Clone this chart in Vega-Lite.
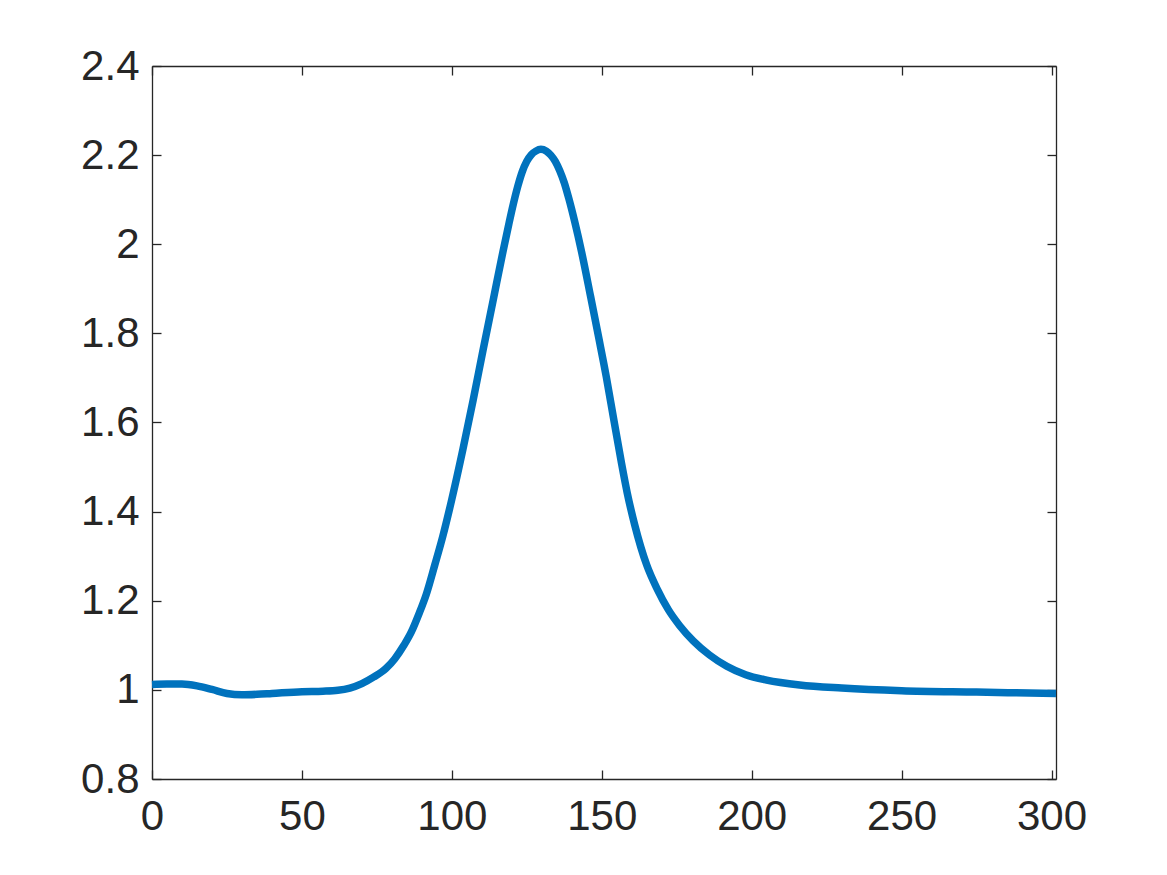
{
  "$schema": "https://vega.github.io/schema/vega-lite/v6.json",
  "autosize": "none",
  "width": 904,
  "height": 713,
  "padding": {"left": 152, "top": 66, "right": 111, "bottom": 96},
  "background": "white",
  "config": {
    "view": {"stroke": null},
    "axis": {
      "grid": false,
      "domainColor": "#262626",
      "domainWidth": 1.3,
      "tickColor": "#262626",
      "tickWidth": 1.3,
      "tickSize": -9,
      "labelColor": "#262626",
      "labelFont": "Liberation Sans",
      "labelFontSize": 42,
      "title": null
    }
  },
  "data": {
    "values": [
      {"t": 0, "v": 1.012},
      {"t": 5, "v": 1.013},
      {"t": 10, "v": 1.013},
      {"t": 15, "v": 1.009},
      {"t": 20, "v": 1.001},
      {"t": 25, "v": 0.992},
      {"t": 30, "v": 0.989},
      {"t": 35, "v": 0.99},
      {"t": 40, "v": 0.992},
      {"t": 50, "v": 0.996},
      {"t": 57, "v": 0.997},
      {"t": 62, "v": 0.999},
      {"t": 66, "v": 1.004},
      {"t": 70, "v": 1.014},
      {"t": 74, "v": 1.029},
      {"t": 78, "v": 1.048},
      {"t": 81, "v": 1.07},
      {"t": 84, "v": 1.1},
      {"t": 86.5, "v": 1.13},
      {"t": 89, "v": 1.17},
      {"t": 91.5, "v": 1.215},
      {"t": 94.3, "v": 1.28},
      {"t": 97, "v": 1.345},
      {"t": 99.9, "v": 1.425},
      {"t": 103.7, "v": 1.54},
      {"t": 107.1, "v": 1.65},
      {"t": 110.4, "v": 1.762},
      {"t": 113.8, "v": 1.875},
      {"t": 117.1, "v": 1.985},
      {"t": 119, "v": 2.045},
      {"t": 120.5, "v": 2.09},
      {"t": 122, "v": 2.13},
      {"t": 123.5, "v": 2.163},
      {"t": 125, "v": 2.186},
      {"t": 126.5, "v": 2.201},
      {"t": 128, "v": 2.209},
      {"t": 129.7, "v": 2.213},
      {"t": 131.5, "v": 2.209},
      {"t": 133, "v": 2.2},
      {"t": 134.5, "v": 2.186},
      {"t": 136, "v": 2.165},
      {"t": 137.5, "v": 2.138},
      {"t": 139, "v": 2.103},
      {"t": 141, "v": 2.05},
      {"t": 143.3, "v": 1.982},
      {"t": 146.3, "v": 1.882},
      {"t": 149, "v": 1.79},
      {"t": 151.5, "v": 1.703},
      {"t": 154, "v": 1.607},
      {"t": 156.5, "v": 1.512},
      {"t": 158.5, "v": 1.442},
      {"t": 161, "v": 1.37},
      {"t": 165, "v": 1.28},
      {"t": 168.5, "v": 1.226},
      {"t": 172.2, "v": 1.18},
      {"t": 176, "v": 1.144},
      {"t": 180.5, "v": 1.11},
      {"t": 186, "v": 1.078},
      {"t": 191.7, "v": 1.053},
      {"t": 198, "v": 1.034},
      {"t": 205, "v": 1.022},
      {"t": 216, "v": 1.011},
      {"t": 230, "v": 1.004},
      {"t": 250, "v": 0.998},
      {"t": 275, "v": 0.995},
      {"t": 301.5, "v": 0.992}
    ]
  },
  "layer": [
    {
      "mark": {"type": "line", "color": "#0072BD", "strokeWidth": 7.5, "interpolate": "monotone", "strokeCap": "butt"},
      "encoding": {
        "x": {
          "field": "t",
          "type": "quantitative",
          "scale": {"domain": [0, 301.5], "nice": false, "zero": false},
          "axis": {"orient": "bottom", "values": [0, 50, 100, 150, 200, 250, 300], "format": "d", "labelPadding": 26, "labelFlush": false, "labelOverlap": false}
        },
        "y": {
          "field": "v",
          "type": "quantitative",
          "scale": {"domain": [0.8, 2.4], "nice": false, "zero": false},
          "axis": {"orient": "left", "values": [0.8, 1, 1.2, 1.4, 1.6, 1.8, 2, 2.2, 2.4], "format": "~g", "labelPadding": 22, "labelFlush": false, "labelOverlap": false}
        }
      }
    },
    {
      "mark": {"type": "point", "opacity": 0},
      "encoding": {
        "x": {
          "field": "t",
          "type": "quantitative",
          "axis": {"orient": "top", "values": [0, 50, 100, 150, 200, 250, 300], "labels": false}
        },
        "y": {
          "field": "v",
          "type": "quantitative",
          "axis": {"orient": "right", "values": [0.8, 1, 1.2, 1.4, 1.6, 1.8, 2, 2.2, 2.4], "labels": false}
        }
      }
    }
  ],
  "resolve": {"axis": {"x": "independent", "y": "independent"}}
}
